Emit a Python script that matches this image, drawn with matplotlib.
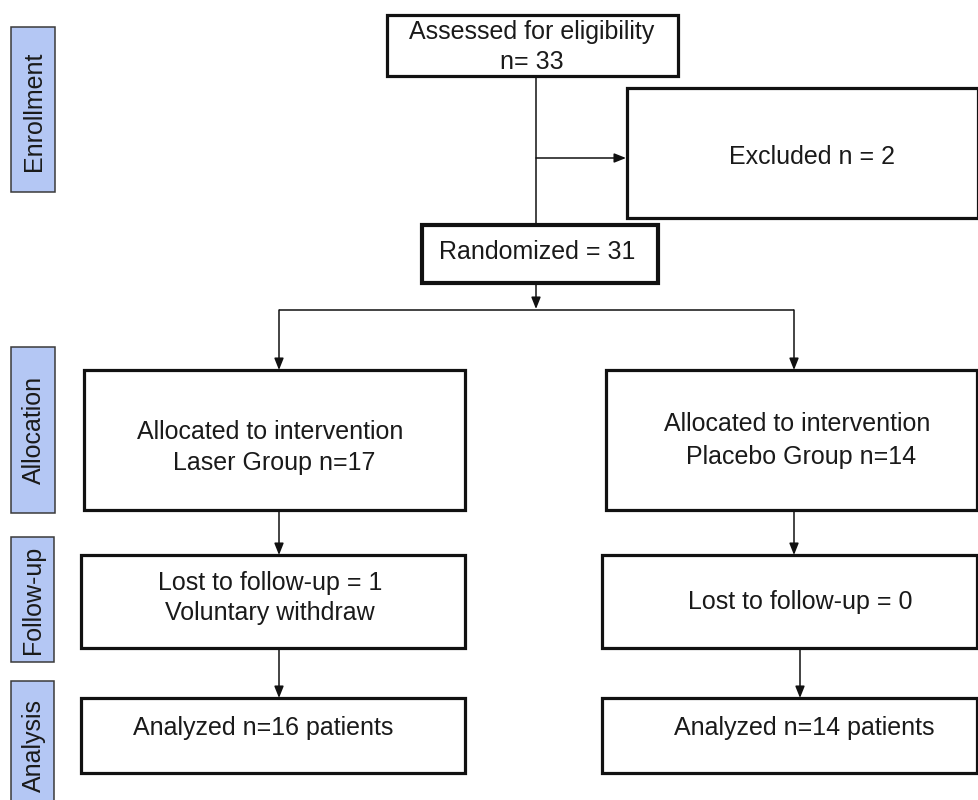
import matplotlib
matplotlib.use("Agg")
import matplotlib.pyplot as plt
from matplotlib.patches import Rectangle

plt.rcParams['font.family'] = ['Liberation Sans', 'DejaVu Sans']

# ---- data ----
stages = ["Enrollment", "Allocation", "Follow-up", "Analysis"]
assessed_n = 33
excluded_n = 2
randomized_n = 31
groups = ["Laser Group", "Placebo Group"]
allocated_n = [17, 14]
lost_n = [1, 0]
lost_reason = ["Voluntary withdraw", ""]
analyzed_n = [16, 14]

# ---- layout (pixel coordinates, y downwards) ----
W, H = 979, 800
fig = plt.figure(figsize=(W / 100, H / 100), dpi=100)
ax = fig.add_axes([0, 0, 1, 1])
ax.set_xlim(0, W)
ax.set_ylim(H, 0)
ax.axis('off')

FS = 18
TXT = '#1a1a1a'
LW_BOX = 2.3
LW_LINE = 1.1


def box(x0, y0, x1, y1, lw=LW_BOX):
    ax.add_patch(Rectangle((x0, y0), x1 - x0, y1 - y0, fill=False,
                           edgecolor='#111111', linewidth=lw, zorder=3))


def text(x, y, s, **kw):
    ax.text(x, y, s, ha='center', va='center', fontsize=FS, color=TXT,
            zorder=4, **kw)


def arrow(x0, y0, x1, y1):
    ax.annotate('', xy=(x1, y1), xytext=(x0, y0),
                arrowprops=dict(arrowstyle='-|>,head_length=0.7,head_width=0.28',
                                color='#111111', lw=LW_LINE,
                                shrinkA=0, shrinkB=0), zorder=2)


def line(xs, ys):
    ax.plot(xs, ys, color='#111111', lw=LW_LINE, zorder=2,
            solid_capstyle='butt')


# stage side labels
side_boxes = [(11, 27, 55, 192), (11, 347, 55, 513),
              (11, 537, 54, 662), (11, 681, 54, 812)]
side_text_y = [111, 430, 600, 746]
for lab, (x0, y0, x1, y1), ty in zip(stages, side_boxes, side_text_y):
    ax.add_patch(Rectangle((x0, y0), x1 - x0, y1 - y0, facecolor='#b4c7f4',
                           edgecolor='#3a3a3a', linewidth=1.1, zorder=3))
    ax.text((x0 + x1) / 2 + 1, ty, lab, rotation=90, ha='center',
            va='center', fontsize=FS, color=TXT, zorder=4)

# top section
box(387, 15, 678, 76)
text(532, 32, "Assessed for eligibility")
text(532, 62, f"n= {assessed_n}")

box(627, 88, 978, 218)
text(812, 157, f"Excluded n = {excluded_n}")

box(422, 225, 658, 283, lw=3.0)
text(537, 252, f"Randomized = {randomized_n}")

line([536, 536], [76, 225])
arrow(536, 158, 626, 158)
arrow(536, 283, 536, 309)
line([279, 794], [310, 310])

# group columns
cols = [
    dict(alloc=(84, 370, 465, 510), fu=(81, 555, 465, 648), an=(81, 698, 465, 773),
         ax1=279, ax2=279, ax3=279, tx_alloc=270, tx_fu=270, tx_an=263,
         alloc_y=(432, 463), fu_y=(583, 613)),
    dict(alloc=(606, 370, 977, 510), fu=(602, 555, 977, 648), an=(602, 698, 977, 773),
         ax1=794, ax2=794, ax3=800, tx_alloc=797, tx_fu=800, tx_an=804,
         alloc_y=(424, 457), fu_y=(602, 602)),
]

for i, c in enumerate(cols):
    box(*c['alloc'])
    box(*c['fu'])
    box(*c['an'])
    arrow(c['ax1'], 310, c['ax1'], c['alloc'][1])
    arrow(c['ax2'], c['alloc'][3], c['ax2'], c['fu'][1])
    arrow(c['ax3'], c['fu'][3], c['ax3'], c['an'][1])

    text(c['tx_alloc'], c['alloc_y'][0], "Allocated to intervention")
    text(c['tx_alloc'] + 4, c['alloc_y'][1], f"{groups[i]} n={allocated_n[i]}")
    if lost_reason[i]:
        text(c['tx_fu'], c['fu_y'][0], f"Lost to follow-up = {lost_n[i]}")
        text(c['tx_fu'], c['fu_y'][1], lost_reason[i])
    else:
        text(c['tx_fu'], c['fu_y'][0], f"Lost to follow-up = {lost_n[i]}")
    text(c['tx_an'], 728, f"Analyzed n={analyzed_n[i]} patients")

fig.savefig("out.png", dpi=100)
